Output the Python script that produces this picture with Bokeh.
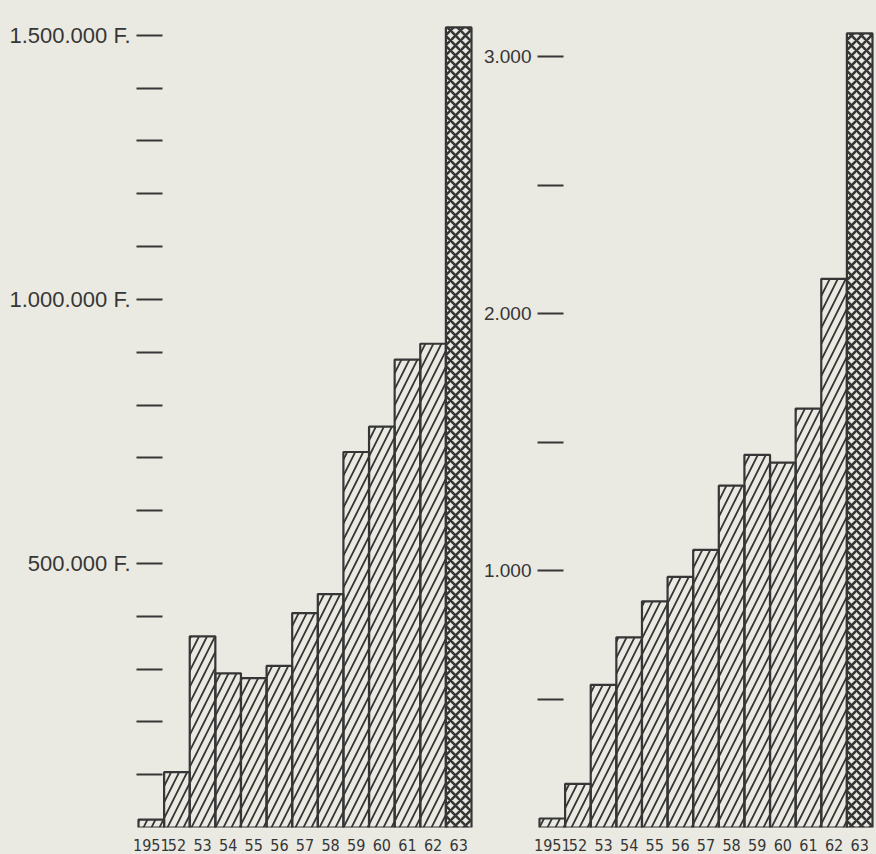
from bokeh.plotting import figure
from bokeh.layouts import row
from bokeh.models import FactorRange, Range1d, FixedTicker, ColumnDataSource
from bokeh.embed import file_html
from bokeh.resources import INLINE

# ---- data ----
years = ["1951", "52", "53", "54", "55", "56", "57", "58", "59", "60", "61", "62", "63"]
francs = [15000, 105000, 362000, 292000, 283000, 306000, 406000, 442000,
          711000, 759000, 886000, 916000, 1515000]
counts = [35, 170, 555, 740, 880, 975, 1080, 1330, 1450, 1420, 1630, 2135, 3090]

left_major = [500000, 1000000, 1500000]
left_minor = [100000, 200000, 300000, 400000, 600000, 700000, 800000, 900000,
              1100000, 1200000, 1300000, 1400000]
left_labels = {500000: "500.000 F.", 1000000: "1.000.000 F.", 1500000: "1.500.000 F."}

right_major = [1000, 2000, 3000]
right_minor = [500, 1500, 2500]
right_labels = {1000: "1.000", 2000: "2.000", 3000: "3.000"}

BG = "#eaeae2"
INK = "#363636"


def make_panel(values, y_end, width, b_left, b_right, major, minor, labels, lab_size):
    n = len(years)
    hatch = ["/"] * (n - 1) + ["x"]
    hscale = [16] * (n - 1) + [10]
    hweight = [1.8] * (n - 1) + [2.6]
    src = ColumnDataSource(dict(x=years, top=values, hatch=hatch,
                                hscale=hscale, hweight=hweight))
    p = figure(x_range=FactorRange(*years, range_padding=0.012),
               y_range=Range1d(0, y_end),
               width=width, height=854,
               output_backend="svg", toolbar_location=None,
               min_border_left=b_left, min_border_right=b_right,
               min_border_top=10, min_border_bottom=27)
    p.vbar(x="x", top="top", width=1.0, source=src,
           fill_color=None, line_color=INK, line_width=2.2,
           hatch_pattern="hatch", hatch_color=INK,
           hatch_scale="hscale", hatch_weight="hweight")

    p.background_fill_color = BG
    p.border_fill_color = BG
    p.outline_line_color = None
    p.xgrid.visible = False
    p.ygrid.visible = False

    ya = p.yaxis[0]
    ya.ticker = FixedTicker(ticks=major, minor_ticks=minor)
    ya.major_label_overrides = labels
    ya.axis_line_color = None
    ya.major_tick_in = 26
    ya.major_tick_out = 0
    ya.minor_tick_in = 26
    ya.minor_tick_out = 0
    ya.major_tick_line_color = INK
    ya.minor_tick_line_color = INK
    ya.major_tick_line_width = 2
    ya.minor_tick_line_width = 2
    ya.major_label_standoff = 6
    ya.major_label_text_font = "Liberation Sans"
    ya.major_label_text_font_size = lab_size
    ya.major_label_text_color = INK

    xa = p.xaxis[0]
    xa.axis_line_color = None
    xa.major_tick_line_color = None
    xa.minor_tick_line_color = None
    xa.major_label_standoff = 5
    xa.major_label_text_font = "DejaVu Sans Condensed"
    xa.major_label_text_font_size = "16px"
    xa.major_label_text_color = INK
    return p


p1 = make_panel(francs, 1547000, 476, 136, 3, left_major, left_minor, left_labels, "22px")
p2 = make_panel(counts, 3179, 400, 61, 2, right_major, right_minor, right_labels, "19px")

layout = row(p1, p2)
html = file_html(layout, INLINE)
html = html.replace("<head>", "<head><style>html,body{background:%s;margin:0;padding:0;overflow:hidden;}</style>" % BG, 1)
open("out.html", "w").write(html)
